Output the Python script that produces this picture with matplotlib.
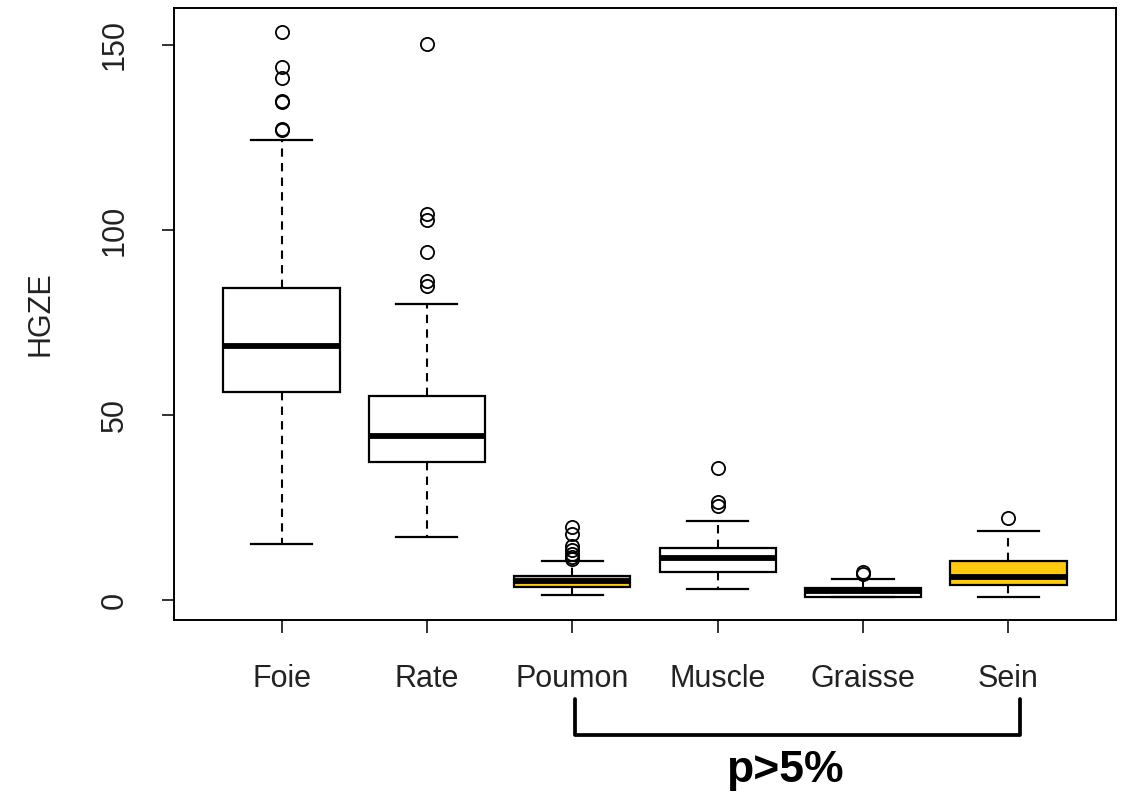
import matplotlib.pyplot as plt
from matplotlib.transforms import blended_transform_factory

# tissue groups and box statistics
tissues = ['Foie', 'Rate', 'Poumon', 'Muscle', 'Graisse', 'Sein']
q1 = [56.2, 37.2, 3.6, 7.5, 0.8, 4.1]
med = [68.6, 44.3, 5.0, 11.3, 2.3, 6.3]
q3 = [84.3, 55.1, 6.5, 14.0, 3.2, 10.6]
whislo = [15.0, 17.1, 1.4, 3.1, 0.8, 0.9]
whishi = [124.3, 79.9, 10.6, 21.4, 5.8, 18.7]
fliers = [
    [153.4, 144.1, 141.0, 134.9, 134.6, 127.3, 127.0],
    [150.3, 104.2, 102.7, 94.1, 86.2, 84.9],
    [19.8, 17.8, 14.5, 13.5, 12.5, 11.5, 11.0],
    [35.7, 26.5, 25.4],
    [7.5, 7.0],
    [22.1],
]
box_colors = ['white', 'white', '#FFC90E', 'white', 'white', '#FFC90E']

plt.rcParams['font.family'] = ['Liberation Sans', 'DejaVu Sans']

fig = plt.figure(figsize=(11.27, 7.92), dpi=100)
ax = fig.add_axes([0.1544, 0.2172, 0.8358, 0.7727])

stats = []
for i, name in enumerate(tissues):
    stats.append(dict(label=name, q1=q1[i], med=med[i], q3=q3[i],
                      whislo=whislo[i], whishi=whishi[i], fliers=fliers[i]))

bp = ax.bxp(stats, positions=range(1, len(tissues) + 1), widths=0.8,
            patch_artist=True, showfliers=True,
            boxprops=dict(linewidth=1.6, edgecolor='black'),
            medianprops=dict(color='black', linewidth=4.2, solid_capstyle='butt'),
            whiskerprops=dict(color='black', linewidth=1.5, linestyle=(0, (4, 3))),
            capprops=dict(color='black', linewidth=1.6),
            capwidths=0.42,
            flierprops=dict(marker='o', markerfacecolor='none', markeredgecolor='black',
                            markersize=9.5, markeredgewidth=1.3))
for patch, c in zip(bp['boxes'], box_colors):
    patch.set_facecolor(c)

ax.set_xlim(0.26, 6.74)
ax.set_ylim(-5.4, 160)
ax.set_yticks([0, 50, 100, 150])
ax.set_yticklabels(['0', '50', '100', '150'], rotation=90, va='center')
ax.tick_params(axis='both', length=9, width=1.3, labelsize=22, color='#222222',
               labelcolor='#222222')
ax.tick_params(axis='x', pad=23)
ax.tick_params(axis='y', pad=23)
ax.set_ylabel('HGZE', fontsize=22, color='#222222', labelpad=32)
for s in ax.spines.values():
    s.set_linewidth(1.4)

# significance bracket under Poumon ... Sein
tr = blended_transform_factory(ax.transData, fig.transFigure)
x0, x1 = 3.02, 6.08
ax.plot([x0, x0, x1, x1], [0.117, 0.072, 0.072, 0.117], color='black', lw=2.7,
        transform=tr, clip_on=False, solid_joinstyle='round', solid_capstyle='round')
fig.text(785 / 1127, 0.027, 'p>5%', ha='center', va='center', fontsize=32,
         fontweight='bold', family=['Liberation Sans', 'DejaVu Sans'])

fig.savefig('out.png', dpi=100)
